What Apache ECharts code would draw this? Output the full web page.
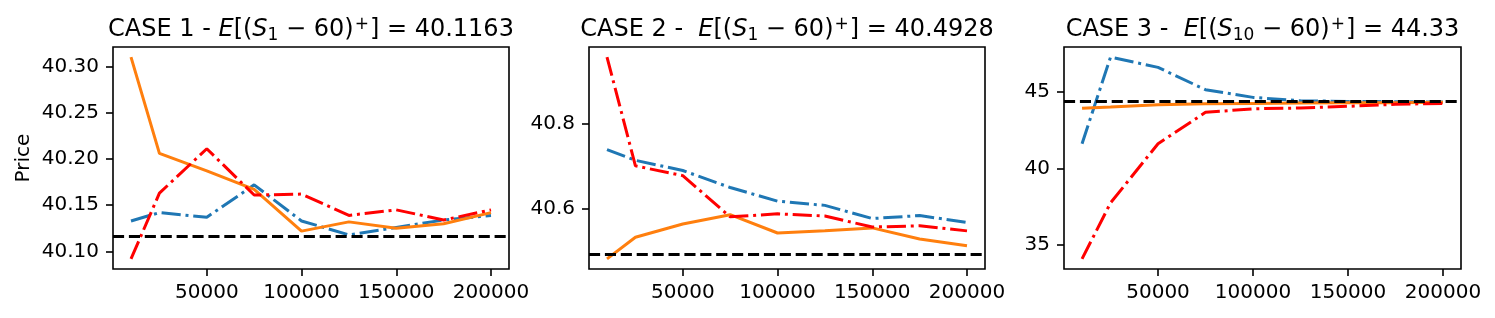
<!DOCTYPE html>
<html>
<head>
<meta charset="utf-8">
<script src="https://cdn.jsdelivr.net/npm/echarts@6/dist/echarts.min.js"></script>
<style>
html,body{margin:0;padding:0;background:#fff;}
#chart{width:1495px;height:318px;}
</style>
</head>
<body>
<div id="chart"></div>
<script>
// ---- data ----
const xValues = [10000, 25000, 50000, 75000, 100000, 125000, 150000, 175000, 200000];

const case1Blue   = [40.133, 40.142, 40.137, 40.172, 40.133, 40.118, 40.126, 40.134, 40.139];
const case1Orange = [40.310, 40.206, 40.187, 40.167, 40.122, 40.132, 40.125, 40.130, 40.142];
const case1Red    = [40.092, 40.163, 40.211, 40.161, 40.162, 40.139, 40.145, 40.134, 40.145];

const case2Blue   = [40.739, 40.714, 40.690, 40.650, 40.618, 40.608, 40.577, 40.584, 40.568];
const case2Orange = [40.482, 40.533, 40.564, 40.586, 40.543, 40.548, 40.555, 40.529, 40.513];
const case2Red    = [40.957, 40.701, 40.678, 40.581, 40.588, 40.583, 40.557, 40.560, 40.548];

const case3Blue   = [41.60, 47.23, 46.56, 45.11, 44.61, 44.39, 44.35, 44.33, 44.31];
const case3Orange = [43.90, 43.98, 44.13, 44.20, 44.22, 44.24, 44.26, 44.26, 44.29];
const case3Red    = [34.11, 37.75, 41.60, 43.64, 43.87, 43.92, 44.03, 44.16, 44.22];

const refValues = [40.1163, 40.4928, 44.33];

const xTickValues = [50000, 100000, 150000, 200000];
const yTicks1 = [40.10, 40.15, 40.20, 40.25, 40.30];
const yTicks2 = [40.6, 40.8];
const yTicks3 = [35, 40, 45];

const caseLabels = ['CASE 1 - ', 'CASE 2 -  ', 'CASE 3 -  '];
const subscripts = ['1', '1', '10'];
const refLabels = ['40.1163', '40.4928', '44.33'];
const yLabelName = 'Price';

// ---- layout ----
const FONT = 'DejaVu Sans';
const grids = [
  {left: 113, top: 47, width: 396, height: 222},
  {left: 589, top: 47, width: 396, height: 222},
  {left: 1064, top: 47, width: 397, height: 222}
];
const cases = [
  {blue: case1Blue, orange: case1Orange, red: case1Red, ticks: yTicks1, dec: 2},
  {blue: case2Blue, orange: case2Orange, red: case2Red, ticks: yTicks2, dec: 1},
  {blue: case3Blue, orange: case3Orange, red: case3Red, ticks: yTicks3, dec: 0}
];

function margins(vals) {
  const lo = Math.min.apply(null, vals), hi = Math.max.apply(null, vals);
  const m = (hi - lo) * 0.05;
  return [lo - m, hi + m];
}
const xLim = margins(xValues);

const dashDot = [19.2, 4.8, 3, 4.8];
const dashed = [11.1, 4.8];

const option = {
  animation: false,
  backgroundColor: '#fff',
  textStyle: {fontFamily: FONT},
  title: cases.map((c, i) => ({
    text: caseLabels[i] + '{i|E}[({i|S}{sub|' + subscripts[i] + '} \u2212 60){sup|+}] = ' + refLabels[i],
    left: grids[i].left + grids[i].width / 2,
    top: 18,
    padding: 0,
    textAlign: 'center',
    textStyle: {
      fontFamily: FONT, fontSize: 24, fontWeight: 'normal', color: '#000', lineHeight: 24,
      rich: {
        i: {fontFamily: FONT, fontSize: 24, fontStyle: 'italic', color: '#000', lineHeight: 24},
        sub: {fontFamily: FONT, fontSize: 17, color: '#000', lineHeight: 17, padding: [11, 0, 0, 0]},
        sup: {fontFamily: FONT, fontSize: 17, color: '#000', lineHeight: 17, padding: [0, 1, 10, 1]}
      }
    }
  })),
  grid: grids.map(g => Object.assign({show: true, borderColor: '#000', borderWidth: 1.6, backgroundColor: 'transparent', containLabel: false}, g)),
  xAxis: cases.map((c, i) => ({
    type: 'value', gridIndex: i, min: xLim[0], max: xLim[1],
    axisLine: {show: false},
    splitLine: {show: false},
    axisTick: {show: true, length: 7, lineStyle: {color: '#000', width: 1.6}, customValues: xTickValues},
    axisLabel: {show: true, margin: 14, fontSize: 20, color: '#000', fontFamily: FONT, customValues: xTickValues,
      formatter: v => String(Math.round(v))}
  })),
  yAxis: cases.map((c, i) => {
    const lim = margins(c.blue.concat(c.orange, c.red));
    return {
      type: 'value', gridIndex: i, min: lim[0], max: lim[1],
      name: i === 0 ? yLabelName : '',
      nameLocation: 'middle', nameGap: 79,
      nameTextStyle: {fontSize: 20, color: '#000', fontFamily: FONT},
      axisLine: {show: false},
      splitLine: {show: false},
      axisTick: {show: true, length: 7, lineStyle: {color: '#000', width: 1.6}, customValues: c.ticks},
      axisLabel: {show: true, margin: 14, fontSize: 20, color: '#000', fontFamily: FONT, customValues: c.ticks,
        formatter: v => Number(v).toFixed(c.dec)}
    };
  }),
  series: []
};

cases.forEach((c, i) => {
  const mk = (vals) => xValues.map((x, k) => [x, vals[k]]);
  option.series.push({
    type: 'line', xAxisIndex: i, yAxisIndex: i, data: mk(c.blue), showSymbol: false, symbol: 'none',
    lineStyle: {color: '#1f77b4', width: 3, type: dashDot}, z: 2
  });
  option.series.push({
    type: 'line', xAxisIndex: i, yAxisIndex: i, data: mk(c.orange), showSymbol: false, symbol: 'none',
    lineStyle: {color: '#ff7f0e', width: 3, type: 'solid'}, z: 3
  });
  option.series.push({
    type: 'line', xAxisIndex: i, yAxisIndex: i, data: mk(c.red), showSymbol: false, symbol: 'none',
    lineStyle: {color: '#ff0000', width: 3, type: dashDot}, z: 4,
    markLine: {
      silent: true, symbol: ['none', 'none'], label: {show: false}, animation: false,
      precision: 8,
      lineStyle: {color: '#000', width: 3, type: dashed},
      emphasis: {disabled: true},
      data: [{yAxis: refValues[i]}], z: 5
    }
  });
});

const chart = echarts.init(document.getElementById('chart'), null, {renderer: 'canvas'});
chart.setOption(option);
</script>
</body>
</html>
